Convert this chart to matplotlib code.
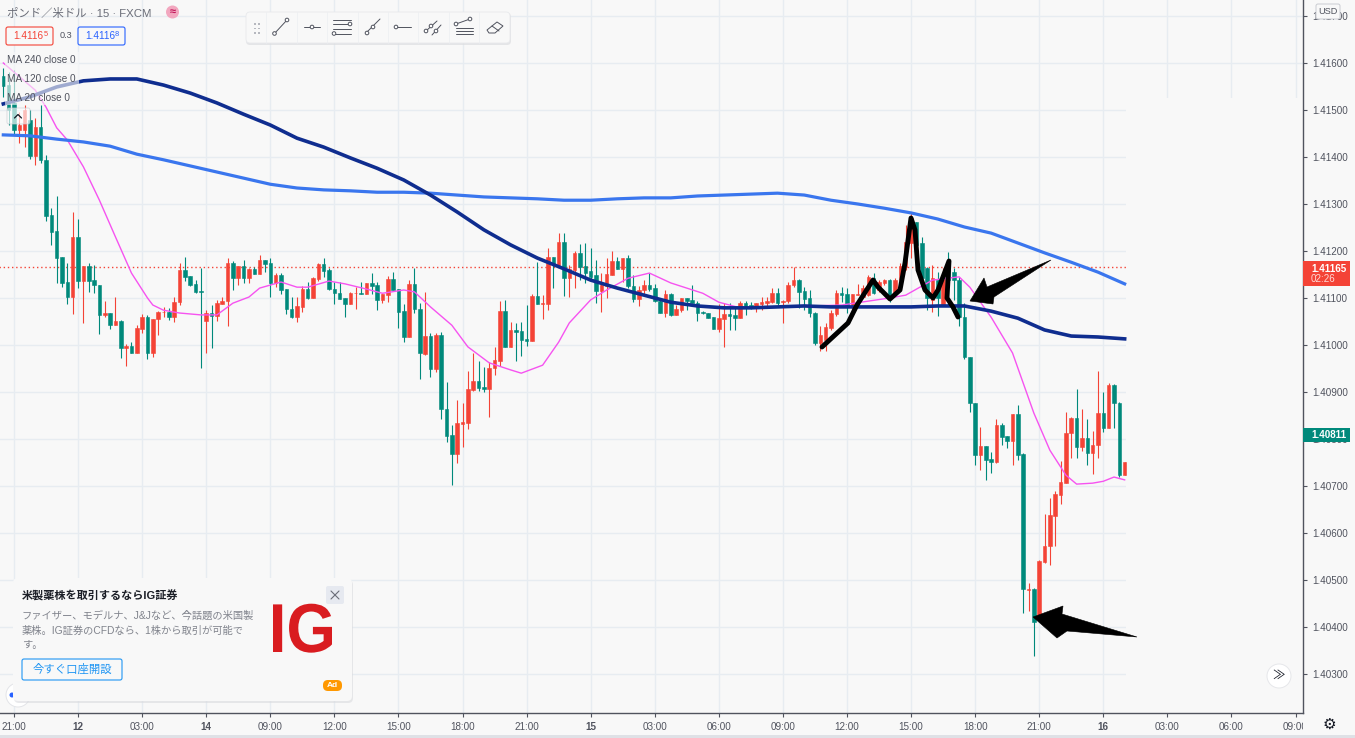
import numpy as np
import matplotlib
matplotlib.use("Agg")
import matplotlib.pyplot as plt
from matplotlib.patches import Rectangle, FancyBboxPatch, Circle, Polygon, PathPatch
from matplotlib.textpath import TextPath
from matplotlib.font_manager import FontProperties
from matplotlib.ticker import FormatStrFormatter
from matplotlib.transforms import Affine2D, Bbox, IdentityTransform, TransformedBbox

plt.rcParams["font.family"] = ["Liberation Sans", "Noto Sans CJK JP", "DejaVu Sans"]

# 15 minute candles, in points (1e-5) above 1.40000
opens = [1572, 1553, 1515, 1457, 1457, 1479, 1402, 1464, 1394, 1276,
         1242, 1187, 1134, 1102, 1230, 1136, 1168, 1138, 1127, 1064,
         1068, 1042, 1051, 993, 998, 983, 1034, 1059, 983, 1055,
         1070, 1070, 1059, 1091, 1159, 1147, 1130, 1115, 1051, 1068,
         1062, 1087, 1093, 1174, 1142, 1168, 1142, 1162, 1151, 1181,
         1174, 1132, 1149, 1119, 1076, 1059, 1081, 1119, 1100, 1140,
         1172, 1159, 1119, 1110, 1100, 1087, 1110, 1110, 1108, 1132,
         1127, 1096, 1106, 1140, 1119, 1072, 1017, 1130, 1076, 981,
         1019, 949, 1021, 864, 808, 768, 832, 834, 904, 923,
         910, 906, 951, 966, 1072, 996, 1032, 1030, 1013, 1008,
         1104, 1087, 1087, 1187, 1170, 1219, 1142, 1159, 1196, 1168,
         1157, 1149, 1115, 1125, 1149, 1179, 1162, 1185, 1125, 1098,
         1117, 1127, 1121, 1093, 1068, 1108, 1064, 1074, 1100, 1096,
         1089, 1070, 1068, 1059, 1034, 1055, 1066, 1064, 1057, 1089,
         1085, 1083, 1087, 1089, 1091, 1110, 1091, 1093, 1127, 1138,
         1115, 1100, 1068, 1004, 1010, 1036, 1066, 1110, 1108, 1085,
         1106, 1102, 1106, 1142, 1117, 1132, 1138, 1110, 1138, 1166,
         1217, 1262, 1217, 1164, 1096, 1138, 1085, 1159, 1155, 1138,
         1059, 974, 876, 766, 785, 757, 751, 830, 806, 795,
         853, 768, 479, 481, 421, 538, 572, 636, 681, 706,
         813, 844, 783, 802, 770, 787, 855, 823, 915, 876, 723]
closes = [1551, 1500, 1457, 1468, 1500, 1402, 1464, 1394, 1274, 1240,
          1185, 1132, 1102, 1230, 1136, 1168, 1136, 1127, 1064, 1068,
          1042, 1051, 993, 998, 983, 1036, 1059, 983, 1055, 1070,
          1071, 1059, 1091, 1159, 1145, 1127, 1113, 1113, 1068, 1062,
          1089, 1093, 1174, 1142, 1168, 1142, 1162, 1151, 1181, 1172,
          1132, 1149, 1117, 1076, 1059, 1083, 1119, 1100, 1142, 1172,
          1157, 1119, 1110, 1098, 1087, 1110, 1111, 1108, 1132, 1125,
          1096, 1108, 1140, 1117, 1070, 1017, 1130, 1076, 983, 1019,
          949, 1021, 864, 806, 768, 834, 836, 906, 923, 908,
          906, 951, 968, 1072, 996, 1032, 1027, 1010, 1008, 1104,
          1087, 1089, 1187, 1170, 1219, 1142, 1162, 1196, 1166, 1153,
          1145, 1115, 1127, 1151, 1179, 1162, 1185, 1125, 1098, 1117,
          1127, 1119, 1093, 1068, 1108, 1064, 1076, 1100, 1093, 1089,
          1068, 1068, 1057, 1034, 1057, 1066, 1062, 1057, 1089, 1083,
          1083, 1089, 1091, 1093, 1110, 1089, 1093, 1127, 1138, 1113,
          1098, 1068, 1004, 1021, 1038, 1068, 1110, 1106, 1085, 1108,
          1108, 1121, 1145, 1110, 1134, 1138, 1106, 1138, 1168, 1219,
          1270, 1213, 1142, 1100, 1142, 1100, 1140, 1138, 1138, 1059,
          974, 876, 766, 785, 755, 751, 830, 804, 795, 853,
          766, 481, 481, 410, 540, 572, 638, 683, 708, 813,
          844, 783, 802, 770, 787, 855, 823, 915, 876, 723, 751]
highs = [1589, 1581, 1585, 1496, 1511, 1500, 1483, 1511, 1404, 1291,
         1317, 1187, 1174, 1283, 1268, 1168, 1174, 1170, 1127, 1093,
         1068, 1102, 1053, 1002, 1006, 1042, 1066, 1064, 1055, 1072,
         1081, 1079, 1102, 1174, 1187, 1147, 1138, 1164, 1074, 1085,
         1096, 1102, 1185, 1179, 1168, 1181, 1164, 1166, 1191, 1181,
         1185, 1153, 1153, 1119, 1102, 1102, 1125, 1134, 1145, 1174,
         1185, 1164, 1134, 1134, 1100, 1113, 1123, 1134, 1132, 1153,
         1134, 1108, 1147, 1155, 1119, 1087, 1138, 1164, 1089, 1113,
         1025, 1025, 1027, 921, 830, 883, 876, 945, 983, 966,
         953, 964, 996, 1093, 1096, 1049, 1047, 1049, 1085, 1108,
         1176, 1106, 1206, 1187, 1238, 1238, 1170, 1200, 1215, 1217,
         1206, 1181, 1153, 1185, 1200, 1187, 1185, 1191, 1149, 1125,
         1138, 1153, 1130, 1100, 1117, 1110, 1085, 1100, 1100, 1127,
         1093, 1072, 1068, 1059, 1087, 1089, 1089, 1079, 1093, 1093,
         1091, 1089, 1102, 1102, 1121, 1121, 1096, 1134, 1166, 1140,
         1123, 1117, 1070, 1040, 1047, 1074, 1117, 1123, 1121, 1108,
         1130, 1127, 1149, 1153, 1138, 1140, 1140, 1142, 1174, 1255,
         1283, 1262, 1230, 1166, 1170, 1155, 1164, 1198, 1164, 1145,
         1089, 974, 876, 825, 785, 772, 842, 834, 806, 853,
         872, 770, 493, 483, 542, 640, 674, 689, 753, 857,
         847, 906, 864, 842, 817, 945, 900, 919, 917, 878, 751]
lows = [1528, 1468, 1447, 1430, 1421, 1396, 1383, 1387, 1264, 1213,
        1132, 1123, 1087, 1066, 1121, 1047, 1113, 1110, 1023, 1059,
        1034, 1042, 972, 955, 983, 983, 1025, 970, 974, 1021,
        1059, 1053, 1049, 1085, 1136, 1125, 1110, 951, 983, 993,
        1051, 1087, 1040, 1117, 1127, 1132, 1132, 1151, 1151, 1155,
        1102, 1123, 1108, 1066, 1057, 1049, 1070, 1098, 1100, 1136,
        1145, 1117, 1087, 1098, 1059, 1087, 1076, 1108, 1108, 1108,
        1074, 1089, 1091, 1117, 1036, 1006, 1017, 1068, 927, 979,
        932, 942, 842, 793, 702, 749, 783, 821, 902, 902,
        900, 847, 936, 955, 996, 996, 966, 976, 998, 1008,
        1087, 1055, 1074, 1121, 1170, 1104, 1102, 1121, 1138, 1132,
        1138, 1089, 1070, 1100, 1149, 1162, 1134, 1121, 1091, 1083,
        1106, 1115, 1091, 1068, 1059, 1062, 1064, 1070, 1074, 1089,
        1051, 1066, 1057, 1034, 1027, 996, 1032, 1032, 1057, 1064,
        1076, 1070, 1074, 1081, 1089, 1085, 1047, 1089, 1123, 1079,
        1074, 1059, 1000, 987, 987, 1032, 1062, 1091, 1068, 1074,
        1106, 1100, 1104, 1108, 1113, 1127, 1091, 1104, 1134, 1159,
        1185, 1202, 1127, 1074, 1070, 1062, 1083, 1085, 1096, 1040,
        970, 857, 744, 734, 713, 727, 749, 787, 781, 744,
        755, 430, 434, 338, 419, 536, 532, 572, 662, 706,
        759, 759, 774, 744, 725, 759, 815, 823, 823, 719, 723]

# slow moving averages, read every 5 bars
ma_index = list(range(0, 211, 5))
ma_240 = [1513, 1528, 1549, 1562, 1566, 1566, 1553, 1536, 1515, 1491,
          1468, 1440, 1421, 1398, 1376, 1351, 1319, 1283, 1245, 1213,
          1185, 1162, 1138, 1121, 1106, 1091, 1083, 1079, 1079, 1081,
          1083, 1081, 1081, 1081, 1081, 1083, 1083, 1072, 1057, 1032,
          1019, 1017, 1013]
ma_120 = [1447, 1445, 1438, 1432, 1423, 1406, 1394, 1381, 1368, 1355,
          1342, 1334, 1330, 1328, 1325, 1325, 1323, 1319, 1315, 1313,
          1311, 1308, 1308, 1311, 1313, 1313, 1317, 1319, 1321, 1323,
          1319, 1308, 1300, 1291, 1281, 1268, 1251, 1238, 1217, 1196,
          1176, 1155, 1130]
# the 20 bar average bends more, read at its turning points
ma_20_index = [0, 6, 8, 10, 12, 15, 18, 21, 24, 27, 28, 30, 33, 37, 40, 43, 46, 48, 52, 55,
               57, 61, 64, 68, 71, 75, 77, 80, 84, 87, 91, 95, 97, 101, 104, 106, 110, 113,
               117, 121, 125, 131, 134, 138, 145, 157, 166, 169, 174, 179, 181, 185, 189,
               193, 196, 199, 201, 204, 206, 208, 210]
ma_20 = [1600, 1542, 1506, 1462, 1436, 1379, 1308, 1230, 1153, 1100, 1085, 1074, 1068, 1064,
         1064, 1089, 1102, 1121, 1134, 1123, 1123, 1136, 1130, 1119, 1110, 1117, 1113, 1081,
         1042, 996, 962, 947, 940, 957, 1006, 1047, 1096, 1117, 1142, 1153, 1132, 1110, 1091,
         1079, 1081, 1085, 1100, 1106, 1138, 1145, 1123, 1059, 983, 855, 776, 723, 704, 706,
         710, 719, 713]

time_ticks = list(range(2, 243, 12))
time_labels = ["21:00", "12", "03:00", "14", "09:00", "12:00", "15:00", "18:00", "21:00", "15",
               "03:00", "06:00", "09:00", "12:00", "15:00", "18:00", "21:00", "16", "03:00",
               "06:00", "09:00"]
day_labels = ["12", "14", "15", "16"]
price_ticks = [1.403 + 0.001 * k for k in range(15)]
bid_price = 1.41165
last_price = 1.40811

# hand drawn marks on the screenshot, in screen pixels
scribble_x = [822, 848, 857, 873, 878, 890, 900, 905, 911, 915, 918, 925, 933, 938, 949, 947, 953, 958]
scribble_y = [347, 323, 305, 280, 287, 299, 290, 263, 218, 230, 270, 290, 298, 290, 261, 298, 307, 317]
arrow_top = [(970, 301), (984, 278), (987, 287), (1051, 260), (994, 297), (993, 304)]
arrow_low = [(1033, 617), (1063, 606), (1062, 614), (1137, 637), (1067, 631), (1057, 638)]

BG = "#f8f8f8"
GRID = "#e7ecf1"
RED = "#f44336"
TEAL = "#00897b"
TEXT = "#50535e"


def pts(values):
    return np.array(values) * 1e-5 + 1.4


o, h, l, c = pts(opens), pts(highs), pts(lows), pts(closes)
bars = np.arange(len(o))
colors = [RED if close >= op else TEAL for op, close in zip(o, c)]

fig = plt.figure(figsize=(13.55, 7.38), dpi=100, facecolor=BG)
ax = fig.add_axes([0, 25 / 738, 1303 / 1355, 713 / 738], facecolor=BG)
ax.set_xlim(-0.62, 243.4)
ax.set_ylim(1.41734 - 713 / 47000, 1.41734)

ax.set_axisbelow(True)
ax.grid(True, color=GRID, lw=1.0)
ax.set_yticks(price_ticks)
ax.yaxis.tick_right()
ax.yaxis.set_major_formatter(FormatStrFormatter("%.5f"))
ax.set_xticks(time_ticks)
ax.set_xticklabels(time_labels)
ax.tick_params(axis="both", length=3, width=0.8, color=TEXT, labelcolor=TEXT, labelsize=7.1)
ax.tick_params(axis="y", pad=3.5)
ax.tick_params(axis="x", pad=3.5)
for side in ["top", "left"]:
    ax.spines[side].set_visible(False)
for side in ["right", "bottom"]:
    ax.spines[side].set_color(TEXT)
    ax.spines[side].set_linewidth(1.0)

# the last time label is cut off by the price scale
scale_clip = TransformedBbox(Bbox([[0, 0], [1303, 738]]), IdentityTransform())
for label_ in ax.get_xticklabels():
    label_.set_clip_box(scale_clip)
    label_.set_clip_on(True)
    if label_.get_text() in day_labels:
        label_.set_fontweight("bold")

# screenshot has the area right of the last bar blanked out
ax.add_patch(Rectangle((210.2, 1.40), 40, 1.41526 - 1.40, fc=BG, ec="none", zorder=1))

ax.hlines(bid_price, -1, 210.2, color=RED, lw=1.0, linestyles=(0, (1, 2)), zorder=1.5)
ax.vlines(bars, l, h, colors=colors, lw=0.8, zorder=2)
ax.bar(bars, c - o, bottom=o, width=0.66, color=colors, edgecolor=colors, linewidth=0.4, zorder=3)

ax.plot(ma_20_index, pts(ma_20), color="#f653f0", lw=1.0, zorder=4)
ax.plot(ma_index, pts(ma_120), color="#3a76ee", lw=2.3, zorder=5)
ax.plot(ma_index, pts(ma_240), color="#0f2d8f", lw=2.6, zorder=6)

# overlay in screen pixels for the trading view furniture
ui = fig.add_axes([0, 0, 1, 1], zorder=10)
ui.set_xlim(0, 1355)
ui.set_ylim(738, 0)
ui.axis("off")


def box(x0, y0, x1, y1, fc="white", ec="none", lw=1.0, rad=2.0, z=1, alpha=None):
    patch = FancyBboxPatch((x0 + rad, y0 + rad), x1 - x0 - 2 * rad, y1 - y0 - 2 * rad,
                           boxstyle=f"round,pad={rad},rounding_size={rad}",
                           fc=fc, ec=ec, lw=lw, zorder=z, alpha=alpha)
    ui.add_patch(patch)


def label(x, y, s, size=7.4, color=TEXT, ha="left", weight="normal", z=5):
    ui.text(x, y, s, fontsize=size, color=color, ha=ha, va="center", fontweight=weight, zorder=z)


def seg(xs, ys, lw=0.7, color="#50535e", z=5):
    ui.plot(xs, ys, color=color, lw=lw, zorder=z, solid_capstyle="round")


def dot(x, y, r=1.8, z=6):
    ui.add_patch(Circle((x, y), r, fc="white", ec="#50535e", lw=0.7, zorder=z))


# faded legend rows
ui.add_patch(Rectangle((5, 52), 74, 53, fc=BG, ec="none", alpha=0.62, zorder=0.5))
label(7, 60, "MA 240 close 0", 7.2)
label(7, 79, "MA 120 close 0", 7.2)
label(7, 98, "MA 20 close 0", 7.2)
box(7, 108, 30, 124, fc="white", ec="#c9cbd1", lw=0.7, rad=2, alpha=0.65)
seg([14.5, 18, 21.5], [118, 114.5, 118], lw=0.9, color="#131722")

# header
label(7, 13, "ポンド／米ドル · 15 · FXCM", 8.2, "#6a6d78")
ui.add_patch(Circle((172.5, 12), 6.5, fc="#f2a7bf", ec="none", zorder=4))
label(172.5, 12, "≈", 8, "#c2185b", ha="center", weight="bold")
box(6, 27, 53, 45, fc=BG, ec=RED, lw=0.8, rad=2)
label(13, 36, "1.4116", 7.2, RED)
label(44, 34.5, "5", 5.4, RED)
label(60, 36, "0.3", 6.6)
box(78, 27, 125, 45, fc=BG, ec="#2962ff", lw=0.8, rad=2)
label(85, 36, "1.4116", 7.2, "#2962ff")
label(115, 34.5, "8", 5.4, "#2962ff")

# drawing toolbar
box(246, 13, 511, 45, fc="#dcdde0", rad=4, z=1, alpha=0.7)
box(246, 12, 510, 43, fc=BG, ec="#e8e9ec", lw=0.6, rad=4, z=2)
for sx in [266, 297, 327, 358, 388, 418, 449, 479]:
    seg([sx, sx], [12, 43], lw=0.5, color="#eceef1", z=3)
for gx in [254, 258]:
    for gy in [23, 27.5, 32]:
        ui.add_patch(Rectangle((gx, gy), 1.6, 1.6, fc="#b6b8bf", ec="none", zorder=4))
seg([274.5, 287], [33.5, 20]); dot(274.5, 33.5); dot(287, 20)
seg([304, 320], [27, 27]); dot(312, 27)
for ly in [19.5, 24, 29, 33.5]:
    seg([333, 351], [ly, ly])
dot(350, 24); dot(334, 33.5)
seg([366, 380], [33, 19]); dot(367, 33); dot(373, 27)
seg([396, 411], [27, 27]); dot(396, 27)
seg([426, 437], [31, 21]); dot(426, 31); dot(431, 26)
seg([432, 441], [35, 25]); dot(436, 31)
seg([456, 470], [24, 19]); dot(456, 24); dot(470, 19)
for ly in [28, 31, 34]:
    seg([456, 473], [ly, ly])
ui.add_patch(Polygon([(487, 30), (497, 22), (503, 26), (495, 33), (489, 33)], closed=True,
                     fc="none", ec="#50535e", lw=0.7, zorder=5))
seg([492, 499], [26, 31])

# hand drawing
ui.plot(scribble_x, scribble_y, color="black", lw=3.5, solid_joinstyle="round",
        solid_capstyle="round", zorder=3)
ui.add_patch(Polygon(arrow_top, closed=True, fc="black", ec="black", lw=0.4, zorder=3))
ui.add_patch(Polygon(arrow_low, closed=True, fc="black", ec="black", lw=0.4, zorder=3))

# price scale
box(1316, 4, 1340, 19, fc=BG, ec="#c9cbd1", lw=0.7, rad=2)
label(1328, 11.5, "USD", 6.6, ha="center")
ui.add_patch(Rectangle((1303, 261), 47, 25, fc=RED, ec="none", zorder=3))
label(1311, 268.5, "1.41165", 7.1, "white", weight="bold")
label(1311, 279.5, "02:26", 7.1, "#ffd9d6")
ui.add_patch(Rectangle((1303, 428), 47, 13.5, fc=TEAL, ec="none", zorder=3))
label(1311, 434.5, "1.40811", 7.1, "white", weight="bold")

# buttons
ui.add_patch(Circle((1279, 676), 12, fc="white", ec="#e6e7ea", lw=0.7, zorder=4))
label(1279, 675.5, "≫", 9, "#131722", ha="center")
ui.text(1329, 724.5, "⚙", fontsize=11, color="#131722", ha="center", va="center",
        family=["DejaVu Sans"], zorder=5)
ui.add_patch(Rectangle((0, 735), 1355, 3, fc="#dfe1e6", ec="none", zorder=4))

# advert
ui.add_patch(Circle((18, 695), 12, fc="white", ec="#e3e4e8", lw=0.7, zorder=1))
ui.add_patch(Circle((12, 695), 2.5, fc="#2962ff", ec="none", zorder=1))
box(14, 580, 353, 703, fc="#d9dade", rad=5, z=2, alpha=0.6)
box(13, 578, 352, 701, fc=BG, rad=5, z=3)
label(22, 595.5, "米製薬株を取引するならIG証券", 8.0, "#1c1f27", weight="bold")
label(22, 616, "ファイザー、モデルナ、J&Jなど、今話題の米国製", 7.4, "#80838c")
label(22, 630.5, "薬株。IG証券のCFDなら、1株から取引が可能で", 7.4, "#80838c")
label(22, 645, "す。", 7.4, "#80838c")
box(22, 659, 122, 680, fc=BG, ec="#2196f3", lw=0.8, rad=2, z=4)
label(72, 669.5, "今すぐ口座開設", 8.2, "#2196f3", ha="center")
box(326, 586, 344, 604, fc="#e6e9f0", rad=2, z=4)
seg([331, 339], [591, 599], lw=0.8, color="#6a6d78")
seg([339, 331], [591, 599], lw=0.8, color="#6a6d78")
# logo squeezed to the narrower width of the real wordmark
logo = TextPath((0, 0), "IG", size=67, prop=FontProperties(family="Liberation Sans", weight="bold"))
logo_box = logo.get_extents()
logo_tf = Affine2D().translate(-logo_box.x0, 0).scale(59 / logo_box.width, -49 / logo_box.height).translate(273, 652)
ui.add_patch(PathPatch(logo, transform=logo_tf + ui.transData, fc="#d91c20", ec="none", zorder=5))
box(323, 680, 342, 691, fc="#ff9800", rad=5, z=4)
label(332.5, 685.5, "Ad", 6.0, "white", ha="center", weight="bold")

fig.savefig("out.png", dpi=100, facecolor=BG)
